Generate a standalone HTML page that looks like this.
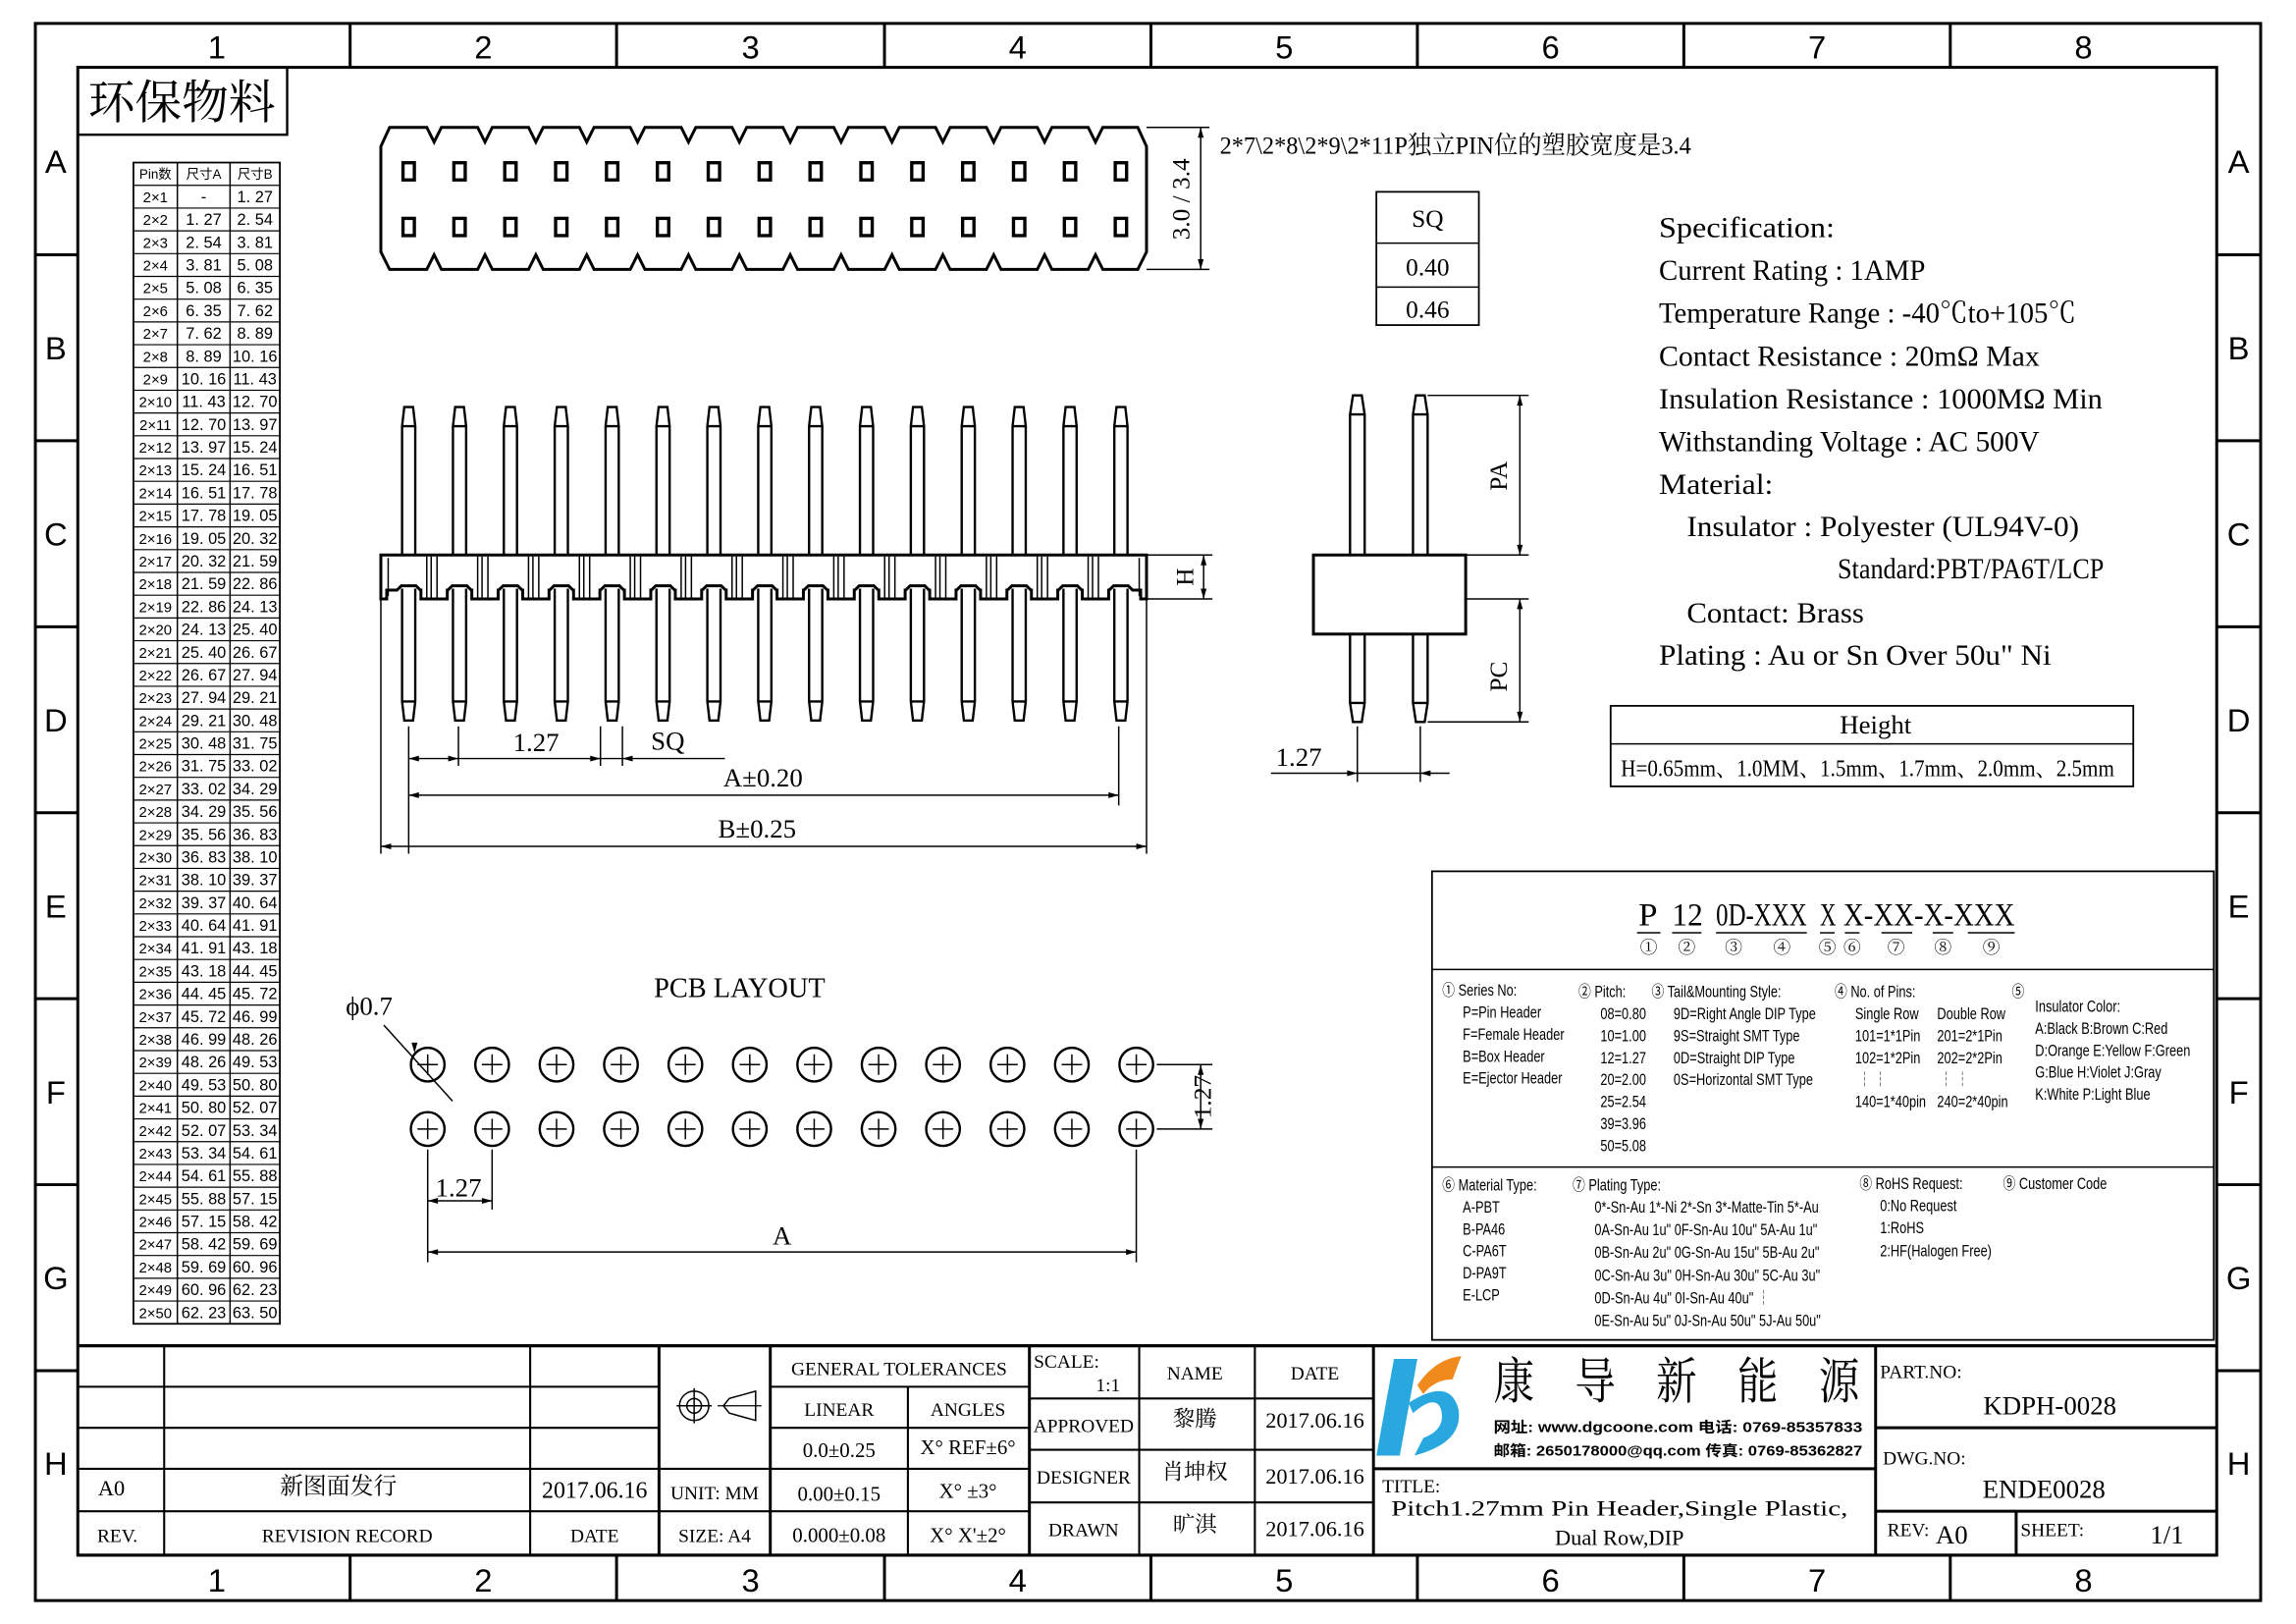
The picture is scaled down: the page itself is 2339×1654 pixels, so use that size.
<!DOCTYPE html>
<html><head><meta charset="utf-8"><style>
html,body{margin:0;padding:0;background:#fff;}
svg{display:block}
text{font-family:"Liberation Sans Narrow","Liberation Sans","Noto Sans CJK SC",sans-serif;fill:#000}
.s{font-family:"Liberation Serif","Noto Serif CJK SC",serif}
</style></head><body>
<svg id="d" width="2339" height="1654" viewBox="0 0 1568 1109" xmlns="http://www.w3.org/2000/svg">
<g fill="none" stroke="#000" stroke-width="1.6" id="g">
<rect x="24" y="16" width="1520" height="1077" stroke-width="2"/>
<rect x="53" y="46" width="1461" height="1016" stroke-width="2"/>
<rect x="53" y="46" width="143" height="46"/>
</g>
<g id="t"></g>
</svg>
<script>
var g=document.getElementById('g'),t=document.getElementById('t');
var L='',T='';
function l(a,b,c,d,w){L+='<line x1="'+a+'" y1="'+b+'" x2="'+c+'" y2="'+d+'"'+(w?' stroke-width="'+w+'"':'')+'/>';}
function r(x,y,w,h,sw){L+='<rect x="'+x+'" y="'+y+'" width="'+w+'" height="'+h+'"'+(sw?' stroke-width="'+sw+'"':'')+'/>';}
function tx(x,y,s,fs,a,cls,extra){T+='<text x="'+x+'" y="'+y+'" font-size="'+fs+'" text-anchor="'+(a||'middle')+'"'+(cls?' class="'+cls+'"':'')+(extra||'')+'>'+s+'</text>';}
function tl(x,y,s,fs,len,cls){tx(x,y,s,fs,'start',cls,' textLength="'+len+'" lengthAdjust="spacingAndGlyphs"');}
function arr(x,y,dir){
 var p; if(dir=='r')p=[x,y,x-7,y-2,x-7,y+2]; if(dir=='l')p=[x,y,x+7,y-2,x+7,y+2];
 if(dir=='d')p=[x,y,x-2,y-7,x+2,y-7]; if(dir=='u')p=[x,y,x-2,y+7,x+2,y+7];
 L+='<polygon points="'+p.join(',')+'" fill="#000" stroke="none"/>';}
var cols=[24,239,421,604,786,968,1150,1332,1544];
for(var i=1;i<8;i++){l(cols[i],16,cols[i],46,2);l(cols[i],1062,cols[i],1093,2);}
for(i=0;i<8;i++){var cx=(i==0)?148:(cols[i]+cols[i+1])/2; if(i==7)cx=1423;
 tx(cx,40,i+1,22);tx(cx,1087,i+1,22);}
var rows=[46,174,301,428,555,682,809,936,1062];
for(i=1;i<8;i++){l(24,rows[i],53,rows[i],2);l(1514,rows[i],1544,rows[i],2);}
var RL='ABCDEFGH';
for(i=0;i<8;i++){var cy=(rows[i]+rows[i+1])/2+8;tx(38,cy,RL[i],22);tx(1529,cy,RL[i],22);}
tx(124,81,'环保物料',32,'middle','s');
var tA=['-'];for(i=1;i<50;i++)tA.push((i*1.27).toFixed(2).replace('.', '. '));
r(91,111,100,793,1.2);l(121,111,121,904,1);l(157,111,157,904,1);
var rh=793/51;
tx(106,122,'Pin数',9);tx(139,122,'尺寸A',9);tx(174,122,'尺寸B',9);
for(i=0;i<50;i++){var y=111+rh*(i+1);l(91,y,191,y,0.8);var yy=y+rh-4;
 tx(106,yy,'2×'+(i+1),10);tx(139,yy,tA[i],11);tx(174,yy,((i+1)*1.27).toFixed(2).replace('.', '. '),11);}
var px=[];for(i=0;i<15;i++)px.push(279+i*34.75);
var p='M266,87 ';for(i=0;i<14;i++){var m=(px[i]+px[i+1])/2;p+='L'+(m-5)+',87 L'+m+',97 L'+(m+5)+',87 ';}
p+='L777,87 L783,100 L783,172 L777,184 ';
for(i=13;i>=0;i--){m=(px[i]+px[i+1])/2;p+='L'+(m+5)+',184 L'+m+',174 L'+(m-5)+',184 ';}
p+='L266,184 L260,172 L260,100 Z';L+='<path d="'+p+'" stroke-width="2"/>';
for(i=0;i<15;i++){[117,155].forEach(function(y){L+='<rect x="'+(px[i]-5)+'" y="'+(y-7)+'" width="10" height="14" fill="#000" stroke="none"/><rect x="'+(px[i]-2.5)+'" y="'+(y-4.5)+'" width="5" height="9" fill="#fff" stroke="#fff" stroke-width="0.5"/>';});}
l(783,87,826,87,1);l(783,184,826,184,1);l(820,87,820,184,1);arr(820,87,'u');arr(820,184,'d');
tx(0,0,'3.0 / 3.4',17,'middle','s',' transform="translate(812,136) rotate(-90)"');
tl(833,105,'2*7\\2*8\\2*9\\2*11P独立PIN位的塑胶宽度是3.4',17,322,'s');
r(940,131,70,91,1.2);l(940,166,1010,166,1);l(940,196,1010,196,1);
tx(975,155,'SQ',17,'middle','s');tx(975,188,'0.40',17,'middle','s');tx(975,217,'0.46',17,'middle','s');
for(i=0;i<15;i++){var x=px[i];
 L+='<path d="M'+(x-4.5)+',379 L'+(x-4.5)+',291 L'+(x-3)+',278 L'+(x+3)+',278 L'+(x+4.5)+',291 L'+(x+4.5)+',379 M'+(x-4.5)+',291 L'+(x+4.5)+',291"/>';
 L+='<path d="M'+(x-4.5)+',402 L'+(x-4.5)+',479 L'+(x-3)+',492 L'+(x+3)+',492 L'+(x+4.5)+',479 L'+(x+4.5)+',402 M'+(x-4.5)+',479 L'+(x+4.5)+',479"/>';
 if(i<14){var m2=(px[i]+px[i+1])/2;l(m2-5,380,m2-5,409,1);l(m2-2,380,m2-2,409,1);l(m2+2,380,m2+2,409,1);}
}
p='M260,409 L260,379 L783,379 L783,409 L779,409 L779,403 ';
for(i=14;i>=0;i--){x=px[i];p+='L'+(x+8)+',403 L'+(x+5)+',400 L'+(x-5)+',400 L'+(x-8)+',403 ';if(i>0){m=(px[i]+px[i-1])/2;p+='L'+(m+9)+',403 L'+(m+9)+',409 L'+(m-9)+',409 L'+(m-9)+',403 ';}}
p+='L264,403 L264,409 Z';L+='<path d="'+p+'" stroke-width="2"/>';
l(265,381,265,407,1);l(778,381,778,407,1);
l(783,379,828,379,1);l(783,409,828,409,1);l(822,379,822,409,1);arr(822,379,'u');arr(822,409,'d');
tx(0,0,'H',17,'middle','s',' transform="translate(815,394) rotate(-90)"');
l(279,496,279,583,1);l(764,496,764,550,1);l(313,496,313,523,1);l(410,496,410,523,1);l(425,496,425,523,1);l(260,410,260,583,1);l(783,410,783,583,1);
l(279,518,495,518,1);arr(279,518,'l');arr(313,518,'r');arr(410,518,'r');arr(425,518,'l');
tx(366,513,'1.27',18,'middle','s');tx(456,512,'SQ',18,'middle','s');
l(279,543,764,543,1);arr(279,543,'l');arr(764,543,'r');tx(521,537,'A±0.20',18,'middle','s');
l(260,578,783,578,1);arr(260,578,'l');arr(783,578,'r');tx(517,572,'B±0.25',18,'middle','s');
[927,970].forEach(function(x){
 L+='<path d="M'+(x-5)+',379 L'+(x-5)+',283 L'+(x-3)+',270 L'+(x+3)+',270 L'+(x+5)+',283 L'+(x+5)+',379 M'+(x-5)+',283 L'+(x+5)+',283"/>';
 L+='<path d="M'+(x-5)+',433 L'+(x-5)+',480 L'+(x-3)+',493 L'+(x+3)+',493 L'+(x+5)+',480 L'+(x+5)+',433 M'+(x-5)+',480 L'+(x+5)+',480"/>';});
r(897,379,104,54,2);
l(975,270,1044,270,1);l(1001,379,1044,379,1);l(1001,409,1044,409,1);l(975,493,1044,493,1);
l(1038,270,1038,379,1);arr(1038,270,'u');arr(1038,379,'d');l(1038,409,1038,493,1);arr(1038,409,'u');arr(1038,493,'d');
tx(0,0,'PA',17,'middle','s',' transform="translate(1029,325) rotate(-90)"');tx(0,0,'PC',17,'middle','s',' transform="translate(1029,462) rotate(-90)"');
l(927,496,927,534,1);l(970,496,970,534,1);l(868,528,990,528,1);arr(927,528,'r');arr(970,528,'l');tx(887,523,'1.27',18,'middle','s');
var sp=[['Specification:',120],['Current Rating : 1AMP',182],['Temperature Range : -40℃to+105℃',285],['Contact Resistance : 20mΩ Max',260],['Insulation Resistance : 1000MΩ Min',303],['Withstanding Voltage : AC 500V',260],['Material:',78]];
for(i=0;i<sp.length;i++)tl(1133,162+i*29.2,sp[i][0],20,sp[i][1],'s');
tl(1152,366,'Insulator : Polyester (UL94V-0)',20,268,'s');tl(1255,395,'Standard:PBT/PA6T/LCP',20,182,'s');
tl(1152,425,'Contact: Brass',20,121,'s');tl(1133,454,'Plating : Au or Sn Over 50u" Ni',20,268,'s');
r(1100,482,357,55,1.2);l(1100,508,1457,508,1);tx(1281,501,'Height',18,'middle','s');tl(1107,530,'H=0.65mm、1.0MM、1.5mm、1.7mm、2.0mm、2.5mm',16,337,'s');
r(978,595,534,320,1.2);l(978,662,1512,662,1);l(978,797,1512,797,1);
tl(1119,632,'P',22,13,'s');tl(1142,632,'12',22,21,'s');tl(1172,632,'0D-XXX',22,62,'s');tl(1243,632,'X',22,11,'s');tl(1259,632,'X-XX-X-XXX',22,117,'s');
l(1118,637,1134,637,1);l(1142,637,1162,637,1);l(1172,637,1234,637,1);l(1243,637,1253,637,1);l(1260,637,1270,637,1);l(1285,637,1306,637,1);l(1320,637,1334,637,1);l(1344,637,1376,637,1);
['①',1126,'②',1152,'③',1184,'④',1217,'⑤',1248,'⑥',1265,'⑦',1295,'⑧',1327,'⑨',1360].forEach(function(v,k,a){if(k%2==0)tx(a[k+1],651,v,12,'middle','s');});
function sm(x,y,s){T+='<text font-size="11" transform="translate('+x+','+y+') scale(0.78,1)">'+s+'</text>';}
sm(985,680,'① Series No:');sm(999,695,'P=Pin Header');sm(999,710,'F=Female Header');sm(999,725,'B=Box Header');sm(999,740,'E=Ejector Header');
sm(1078,681,'② Pitch:');['08=0.80','10=1.00','12=1.27','20=2.00','25=2.54','39=3.96','50=5.08'].forEach(function(s,k){sm(1093,696+k*15,s);});
sm(1128,681,'③ Tail&Mounting Style:');['9D=Right Angle DIP Type','9S=Straight SMT Type','0D=Straight DIP Type','0S=Horizontal SMT Type'].forEach(function(s,k){sm(1143,696+k*15,s);});
sm(1253,681,'④ No. of Pins:');sm(1267,696,'Single Row');sm(1323,696,'Double Row');sm(1267,711,'101=1*1Pin');sm(1323,711,'201=2*1Pin');sm(1267,726,'102=1*2Pin');sm(1323,726,'202=2*2Pin');sm(1269,741,'┆  ┆');sm(1325,741,'┆  ┆');sm(1267,756,'140=1*40pin');sm(1323,756,'240=2*40pin');
sm(1374,681,'⑤');sm(1390,691,'Insulator Color:');sm(1390,706,'A:Black  B:Brown  C:Red');sm(1390,721,'D:Orange E:Yellow F:Green');sm(1390,736,'G:Blue    H:Violet J:Gray');sm(1390,751,'K:White  P:Light Blue');
sm(985,813,'⑥ Material Type:');['A-PBT','B-PA46','C-PA6T','D-PA9T','E-LCP'].forEach(function(s,k){sm(999,828+k*15,s);});
sm(1074,813,'⑦ Plating Type:');['0*-Sn-Au 1*-Ni 2*-Sn 3*-Matte-Tin 5*-Au','0A-Sn-Au 1u" 0F-Sn-Au 10u"  5A-Au 1u"','0B-Sn-Au 2u" 0G-Sn-Au 15u"  5B-Au 2u"','0C-Sn-Au 3u" 0H-Sn-Au 30u"  5C-Au 3u"','0D-Sn-Au 4u" 0I-Sn-Au 40u"        ┆','0E-Sn-Au 5u" 0J-Sn-Au 50u"  5J-Au 50u"'].forEach(function(s,k){sm(1089,828+k*15.5,s);});
sm(1270,812,'⑧ RoHS Request:');sm(1284,827,'0:No Request');sm(1284,842,'1:RoHS');sm(1284,858,'2:HF(Halogen Free)');sm(1368,812,'⑨ Customer Code');
tx(505,681,'PCB LAYOUT',19,'middle','s');
for(i=0;i<12;i++){x=292+i*44;[727,771].forEach(function(y){L+='<circle cx="'+x+'" cy="'+y+'" r="11.5" stroke-width="1.6"/>';l(x-7,y,x+7,y,1);l(x,y-7,x,y+7,1);});}
tx(252,693,'ϕ0.7',18,'middle','s');l(262,700,309,752,1);arr(283,719,'d');
l(790,727,828,727,1);l(790,771,828,771,1);l(820,727,820,771,1);arr(820,727,'u');arr(820,771,'d');
tx(0,0,'1.27',17,'middle','s',' transform="translate(827,749) rotate(-90)"');
l(292,785,292,862,1);l(336,785,336,826,1);l(776,785,776,862,1);
l(292,820,336,820,1);arr(292,820,'l');arr(336,820,'r');tx(313,817,'1.27',18,'middle','s');
l(292,855,776,855,1);arr(292,855,'l');arr(776,855,'r');tx(534,850,'A',18,'middle','s');
l(53,919,1514,919,2.2);
var rY=[919,947,975,1003,1032,1062];
for(i=1;i<5;i++)l(53,rY[i],450,rY[i],1.4);
l(112,919,112,1062,1.4);l(362,919,362,1062,1.4);l(450,919,450,1062,2);
l(450,1003,526,1003,1.4);l(450,1032,526,1032,1.4);l(526,919,526,1062,2);
l(526,947,703,947,1.4);l(526,975,703,975,1.4);l(526,1003,703,1003,1.4);l(526,1032,703,1032,1.4);l(620,947,620,1062,1.4);
l(703,919,703,1062,2);l(703,955,938,955,1.4);l(703,990,938,990,1.4);l(703,1026,938,1026,1.4);l(778,919,778,1062,1.4);l(857,919,857,1062,1.4);l(938,919,938,1062,2);
l(938,1003,1281,1003,2);l(1281,919,1281,1062,2);l(1281,975,1514,975,2);l(1281,1032,1514,1032,2);l(1377,1032,1377,1062,2);l(53,1062,1514,1062,2);
tx(76,1021,'A0',15,'middle','s');tx(231,1020,'新图面发行',16,'middle','s');tx(406,1023,'2017.06.16',16,'middle','s');
tx(80,1053,'REV.',13,'middle','s');tx(237,1053,'REVISION RECORD',13,'middle','s');tx(406,1053,'DATE',13,'middle','s');
L+='<circle cx="474" cy="960" r="10" stroke-width="1"/><circle cx="474" cy="960" r="5" stroke-width="1"/>';l(462,960,486,960,1);l(474,948,474,972,1);
L+='<path d="M494,960 L498,955 L516,950 L516,970 L498,965 Z" stroke-width="1"/>';l(490,960,520,960,0.8);
tx(488,1024,'UNIT: MM',13,'middle','s');tx(488,1053,'SIZE: A4',13,'middle','s');
tx(614,939,'GENERAL TOLERANCES',13,'middle','s');tx(573,967,'LINEAR',13,'middle','s');tx(661,967,'ANGLES',13,'middle','s');
tx(573,995,'0.0±0.25',14,'middle','s');tx(661,993,'X° REF±6°',14,'middle','s');tx(573,1025,'0.00±0.15',14,'middle','s');tx(661,1023,'X° ±3°',14,'middle','s');tx(573,1053,'0.000±0.08',14,'middle','s');tx(661,1053,'X° X\'±2°',14,'middle','s');
tx(706,934,'SCALE:',13,'start','s');tx(765,950,'1:1',13,'end','s');tx(816,942,'NAME',13,'middle','s');tx(898,942,'DATE',13,'middle','s');
tx(740,978,'APPROVED',13,'middle','s');tx(740,1013,'DESIGNER',13,'middle','s');tx(740,1049,'DRAWN',13,'middle','s');
tx(816,974,'黎腾',15,'middle','s');tx(816,1010,'肖坤权',15,'middle','s');tx(816,1046,'旷淇',15,'middle','s');
tx(898,975,'2017.06.16',15,'middle','s');tx(898,1013,'2017.06.16',15,'middle','s');tx(898,1049,'2017.06.16',15,'middle','s');
L+='<path d="M952,928 L968,928 L956,994 L940,994 Z" fill="#29a8e0" stroke="none"/><path d="M962,958 Q990,940 996,962 Q1000,985 966,994 L972,982 Q988,976 984,962 Q980,952 965,965 Z" fill="#29a8e0" stroke="none"/><path d="M968,946 Q980,928 998,926 L992,942 Q980,942 972,952 Z" fill="#f08a1c" stroke="none"/>';
tl(1020,955,'康　导　新　能　源',34,250,'s');
tl(1020,978,'网址: www.dgcoone.com  电话: 0769-85357833',10,252);
tl(1020,994,'邮箱: 2650178000@qq.com 传真: 0769-85362827',10,252);
T=T.replace(/(网址[^<]*<\/text>)/,'$1');
tx(944,1019,'TITLE:',13,'start','s');tl(950,1035,'Pitch1.27mm Pin Header,Single Plastic,',15,312,'s');tx(1106,1055,'Dual Row,DIP',15,'middle','s');
tx(1284,941,'PART.NO:',13,'start','s');tx(1400,966,'KDPH-0028',18,'middle','s');
tx(1286,1000,'DWG.NO:',13,'start','s');tx(1396,1023,'ENDE0028',18,'middle','s');
tx(1289,1049,'REV:',13,'start','s');tx(1333,1054,'A0',18,'middle','s');tx(1380,1049,'SHEET:',13,'start','s');tx(1480,1054,'1/1',18,'middle','s');
g.innerHTML+=L;t.innerHTML=T;
t.querySelectorAll('text').forEach(function(e){if(/网址|邮箱/.test(e.textContent))e.setAttribute('font-weight','bold');});
</script>
</body></html>
